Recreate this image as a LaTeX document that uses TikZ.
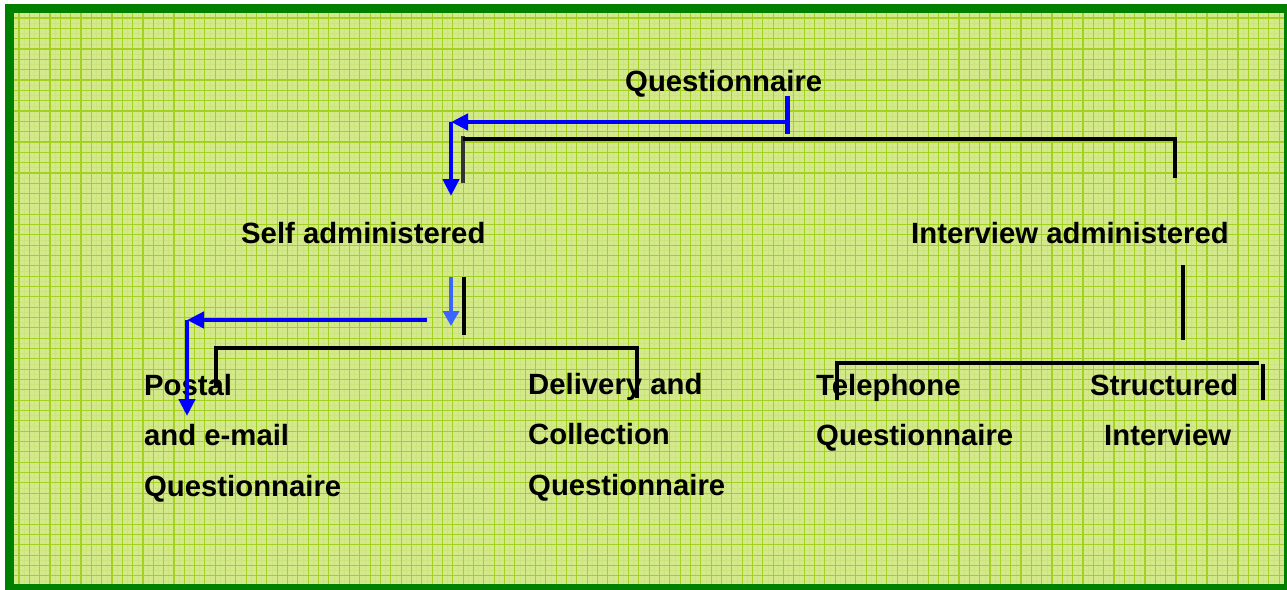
\documentclass[tikz,border=0pt]{standalone}
\usepackage{fontspec}
\setmainfont{Liberation Sans}
\usetikzlibrary{arrows.meta}

\definecolor{framegreen}{RGB}{0,128,0}
\definecolor{paper}{RGB}{212,232,140}
\definecolor{gridgreen}{RGB}{164,208,34}
\definecolor{finegrid}{RGB}{204,228,126}
\definecolor{arrowblue}{RGB}{0,0,255}
\definecolor{lightblue}{RGB}{60,100,255}
\definecolor{darkbar}{RGB}{51,51,51}

\tikzset{
  label/.style={font=\fontsize{29.3}{34}\selectfont\bfseries, inner sep=0pt, anchor=base west, text=black},
  bracket/.style={draw=black, line width=4.6pt, line cap=butt, line join=miter},
  bluearrow/.style={draw=arrowblue, line width=4.6pt, -{Triangle[length=17pt,width=16pt]}},
  smallarrow/.style={draw=lightblue, line width=3.4pt, -{Triangle[length=15pt,width=16pt]}},
  bluebar/.style={draw=arrowblue, line width=5pt},
  gridline/.style={draw=gridgreen, line width=1.1pt},
  fineline/.style={draw=finegrid, line width=0.6pt}
}

\begin{document}
\begin{tikzpicture}[x=1pt,y=-1pt]
  \useasboundingbox (0,0) rectangle (1287,589);
  % frame and paper
  \fill[white] (0,0) rectangle (1287,589);
  \fill[framegreen] (5,4) rectangle (1292,594);
  \fill[paper] (14,13) rectangle (1284,584);
  % fine texture lines, then the main grid
  \foreach \g in {24.17,34.50,...,1284} \draw[fineline] (\g,13) -- (\g,584);
  \foreach \g in {23.17,33.50,...,584} \draw[fineline] (14,\g) -- (1284,\g);
  \foreach \g in {19,29.33,...,1284} \draw[gridline] (\g,13) -- (\g,584);
  \foreach \g in {18,28.33,...,584} \draw[gridline] (14,\g) -- (1284,\g);

  % labels
  \node[label] (q) at (625,91) {Questionnaire};
  \node[label] (self) at (241,243) {Self administered};
  \node[label] (inter) at (911,243) {Interview administered};
  \node[label] (postal1) at (144,395) {Postal};
  \node[label] (postal2) at (144,445) {and e-mail};
  \node[label] (postal3) at (144,496) {Questionnaire};
  \node[label] (deliv1) at (528,394) {Delivery and};
  \node[label] (deliv2) at (528,444) {Collection};
  \node[label] (deliv3) at (528,495) {Questionnaire};
  \node[label] (tel1) at (816,395) {Telephone};
  \node[label] (tel2) at (816,445) {Questionnaire};
  \node[label] (struct1) at (1090,395) {Structured};
  \node[label] (struct2) at (1104,445) {Interview};

  % connector end points
  \coordinate (qbarT) at (787,96);
  \coordinate (qbarB) at (787,134);
  \coordinate (qstart) at (787,122);
  \coordinate (qcorner) at (451,122);
  \coordinate (selfTip) at (451,196);
  \coordinate (brA) at (463,136);
  \coordinate (brAend) at (463,183);
  \coordinate (brAtop) at (463,139);
  \coordinate (brB) at (1175,139);
  \coordinate (brBend) at (1175,178);

  \coordinate (sdownT) at (451,277);
  \coordinate (sdownB) at (451,326);
  \coordinate (sbarT) at (464,277);
  \coordinate (sbarB) at (464,335);
  \coordinate (sstart) at (427,320);
  \coordinate (scorner) at (187,320);
  \coordinate (postalTip) at (187,416);
  \coordinate (pbL) at (216,386);
  \coordinate (pbLtop) at (216,348);
  \coordinate (pbRtop) at (637,348);
  \coordinate (pbR) at (637,398);

  \coordinate (ibarT) at (1183,265);
  \coordinate (ibarB) at (1183,340);
  \coordinate (tbL) at (837,400);
  \coordinate (tbLtop) at (837,363);
  \coordinate (tbRtop) at (1259,363);
  \coordinate (sbR1) at (1263,364);
  \coordinate (sbR2) at (1263,400);

  % black brackets
  \draw[darkbar, line width=4.6pt] (brA) -- (brAend);
  \draw[bracket] (brAtop) -- (brB) -- (brBend);
  \draw[bracket] (sbarT) -- (sbarB);
  \draw[bracket] (pbL) -- (pbLtop) -- (pbRtop) -- (pbR);
  \draw[bracket] (ibarT) -- (ibarB);
  \draw[bracket] (tbL) -- (tbLtop) -- (tbRtop);
  \draw[bracket] (sbR1) -- (sbR2);

  % blue arrows
  \draw[bluebar] (qbarT) -- (qbarB);
  \draw[bluearrow] (qstart) -- (qcorner);
  \draw[bluearrow] (qcorner) -- (selfTip);
  \draw[smallarrow] (sdownT) -- (sdownB);
  \draw[bluearrow] (sstart) -- (scorner);
  \draw[bluearrow] (scorner) -- (postalTip);
\end{tikzpicture}
\end{document}
